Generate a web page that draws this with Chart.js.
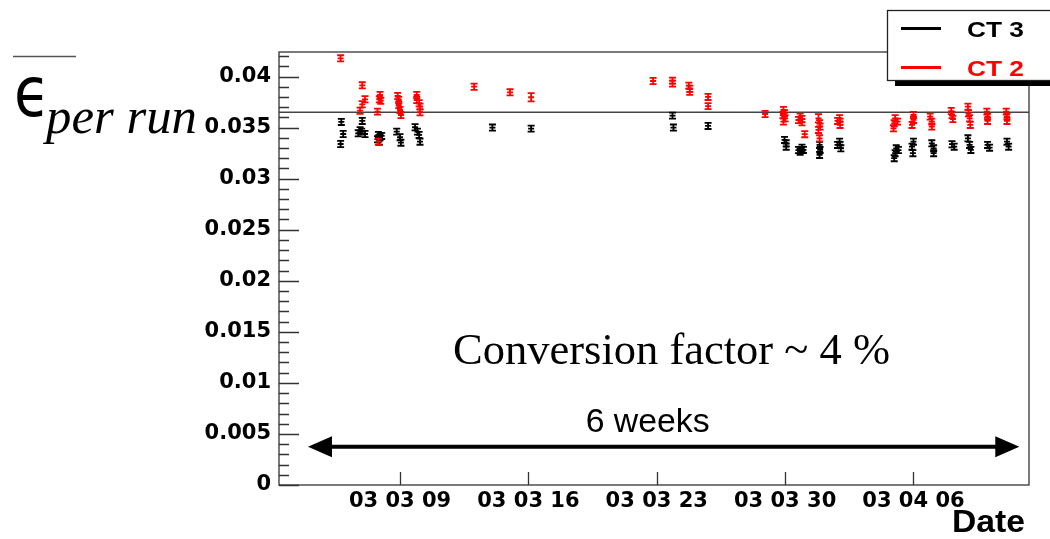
<!DOCTYPE html>
<html>
<head>
<meta charset="utf-8">
<script src="https://cdn.jsdelivr.net/npm/chart.js@4"></script>
<style>
  html, body { margin: 0; padding: 0; background: #fff; }
  canvas { display: block; }
</style>
</head>
<body>
<canvas id="effChart" width="1050" height="539"></canvas>
<script>
// one entry per run: [day (counted from 1 March 2003), efficiency, error]
const ct3Runs = [
  [5.80, 0.03555, 0.0003], [5.90, 0.03437, 0.0003], [5.76, 0.03339, 0.0003],
  [6.94, 0.03565, 0.0003], [6.82, 0.03474, 0.0003], [6.72, 0.03444, 0.0003],
  [6.91, 0.03460, 0.0003], [7.09, 0.03437, 0.0003],
  [7.82, 0.03428, 0.0003], [7.91, 0.03405, 0.0003], [8.00, 0.03418, 0.0003],
  [7.77, 0.03386, 0.0003], [7.87, 0.03362, 0.0003],
  [8.82, 0.03460, 0.0003], [9.00, 0.03405, 0.0003], [9.05, 0.03352, 0.0003],
  [9.82, 0.03503, 0.0003], [9.95, 0.03460, 0.0003], [10.04, 0.03428, 0.0003],
  [10.09, 0.03362, 0.0003],
  [14.04, 0.03500, 0.0003], [16.15, 0.03490, 0.0003],
  [23.86, 0.03617, 0.0003], [23.91, 0.03500, 0.0003], [25.80, 0.03516, 0.0003],
  [29.97, 0.03379, 0.0003], [30.06, 0.03346, 0.0003], [30.06, 0.03313, 0.0003],
  [30.92, 0.03303, 0.0003], [31.00, 0.03281, 0.0003], [30.82, 0.03264, 0.0003],
  [30.73, 0.03280, 0.0003],
  [31.88, 0.03330, 0.0003], [31.91, 0.03281, 0.0003], [31.88, 0.03232, 0.0003],
  [32.97, 0.03362, 0.0003], [33.00, 0.03330, 0.0003], [33.04, 0.03297, 0.0003],
  [32.86, 0.03330, 0.0003],
  [36.06, 0.03297, 0.0003], [36.00, 0.03249, 0.0003], [35.95, 0.03200, 0.0003],
  [36.18, 0.03280, 0.0003],
  [37.00, 0.03362, 0.0003], [36.92, 0.03313, 0.0003], [36.97, 0.03249, 0.0003],
  [38.00, 0.03346, 0.0003], [38.10, 0.03297, 0.0003], [38.10, 0.03249, 0.0003],
  [39.10, 0.03337, 0.0003], [39.22, 0.03313, 0.0003],
  [39.97, 0.03395, 0.0003], [40.06, 0.03330, 0.0003], [40.13, 0.03281, 0.0003],
  [41.04, 0.03330, 0.0003], [41.15, 0.03303, 0.0003],
  [42.10, 0.03362, 0.0003], [42.19, 0.03313, 0.0003]
];

const ct2Runs = [
  [5.76, 0.04178, 0.0003], [6.94, 0.03914, 0.0003], [7.09, 0.03777, 0.0003],
  [6.94, 0.03728, 0.0003], [6.82, 0.03665, 0.0003], [7.77, 0.03656, 0.0003],
  [7.82, 0.03362, 0.0003],
  [7.91, 0.03819, 0.0003], [7.87, 0.03777, 0.0003], [7.95, 0.03763, 0.0003],
  [8.87, 0.03809, 0.0003], [8.93, 0.03770, 0.0003], [8.93, 0.03721, 0.0003],
  [9.00, 0.03672, 0.0003], [9.05, 0.03623, 0.0003],
  [9.91, 0.03819, 0.0003], [9.91, 0.03770, 0.0003], [10.04, 0.03738, 0.0003],
  [10.09, 0.03705, 0.0003], [10.09, 0.03650, 0.0003],
  [13.04, 0.03900, 0.0003], [15.00, 0.03845, 0.0003], [16.15, 0.03797, 0.0004],
  [22.80, 0.03956, 0.0003], [23.86, 0.03960, 0.0003], [23.86, 0.03930, 0.0003],
  [24.75, 0.03910, 0.0003], [24.80, 0.03880, 0.0003], [24.80, 0.03850, 0.0003],
  [25.80, 0.03800, 0.0003], [25.80, 0.03710, 0.0003],
  [28.91, 0.03633, 0.0003],
  [29.91, 0.03672, 0.0003], [29.97, 0.03640, 0.0003], [29.88, 0.03623, 0.0003],
  [30.00, 0.03591, 0.0003], [29.91, 0.03558, 0.0003],
  [30.82, 0.03607, 0.0003], [30.92, 0.03584, 0.0003], [30.92, 0.03552, 0.0003],
  [30.73, 0.03574, 0.0003], [31.07, 0.03435, 0.0003],
  [31.82, 0.03591, 0.0004], [31.88, 0.03542, 0.0003], [31.91, 0.03509, 0.0003],
  [31.82, 0.03477, 0.0003], [31.88, 0.03395, 0.0003],
  [32.97, 0.03591, 0.0003], [33.00, 0.03558, 0.0003], [33.00, 0.03526, 0.0003],
  [32.86, 0.03565, 0.0003],
  [36.00, 0.03591, 0.0003], [35.95, 0.03542, 0.0003], [35.91, 0.03493, 0.0003],
  [36.13, 0.03558, 0.0003],
  [37.00, 0.03623, 0.0003], [37.00, 0.03575, 0.0003], [36.92, 0.03526, 0.0003],
  [37.91, 0.03607, 0.0003], [38.00, 0.03558, 0.0003], [38.00, 0.03509, 0.0003],
  [39.06, 0.03662, 0.0003], [39.10, 0.03623, 0.0003], [39.15, 0.03584, 0.0003],
  [39.97, 0.03705, 0.0003], [40.00, 0.03640, 0.0003], [40.06, 0.03591, 0.0003],
  [40.10, 0.03526, 0.0003],
  [41.00, 0.03656, 0.0003], [41.04, 0.03607, 0.0003], [41.04, 0.03565, 0.0003],
  [42.06, 0.03656, 0.0003], [42.10, 0.03607, 0.0003], [42.10, 0.03565, 0.0003]
];

const tickDays = [9, 16, 23, 30, 37];
const tickLabels = ['03 03 09', '03 03 16', '03 03 23', '03 03 30', '03 04 06'];
const dayRange = [2.4, 43.3];
const effMax = 0.0424;
const meanEff = 0.0365;
// the "6 weeks" arrow, in day / efficiency units
const spanDays = [3.98, 42.77];
const spanLevel = 0.00375;

const toPoints = runs => runs.map(r => ({ x: r[0], y: r[1] }));
const toErrors = runs => runs.map(r => r[2]);

// draws text squeezed or stretched to a given width
function fitText(ctx, text, x, y, font, width, align) {
  ctx.save();
  ctx.font = font;
  const k = width / ctx.measureText(text).width;
  ctx.translate(x, y);
  ctx.scale(k, 1);
  ctx.textAlign = align || 'left';
  ctx.textBaseline = 'alphabetic';
  ctx.fillText(text, 0, 0);
  ctx.restore();
}

const decorations = {
  id: 'decorations',
  afterDatasetsDraw(chart) {
    const { ctx, chartArea: a, scales: { x, y } } = chart;

    // error bars for every run
    chart.data.datasets.forEach((ds, i) => {
      if (!ds.errors) return;
      const meta = chart.getDatasetMeta(i);
      ctx.save();
      ctx.strokeStyle = ds.borderColor;
      ctx.lineWidth = 1.8;
      meta.data.forEach((pt, j) => {
        const v = ds.data[j].y;
        const top = y.getPixelForValue(v + ds.errors[j]);
        const bot = y.getPixelForValue(v - ds.errors[j]);
        ctx.beginPath();
        ctx.moveTo(pt.x, top); ctx.lineTo(pt.x, bot);
        ctx.moveTo(pt.x - 3.5, top); ctx.lineTo(pt.x + 3.5, top);
        ctx.moveTo(pt.x - 3.5, bot); ctx.lineTo(pt.x + 3.5, bot);
        ctx.moveTo(pt.x - 3, pt.y); ctx.lineTo(pt.x + 3, pt.y);
        ctx.stroke();
      });
      ctx.restore();
    });

    ctx.save();
    // frame and tick marks
    ctx.strokeStyle = '#333';
    ctx.lineWidth = 1.3;
    ctx.strokeRect(a.left, a.top, a.right - a.left, a.bottom - a.top);
    ctx.beginPath();
    for (let m = 0; m <= effMax * 1000 + 1e-9; m++) {
      const py = Math.round(y.getPixelForValue(m / 1000)) + 0.5;
      ctx.moveTo(a.left, py);
      ctx.lineTo(a.left + (m % 5 === 0 ? 20 : 10), py);
    }
    tickDays.forEach(d => {
      const px = Math.round(x.getPixelForValue(d)) + 0.5;
      ctx.moveTo(px, a.bottom);
      ctx.lineTo(px, a.bottom - 13);
    });
    ctx.stroke();

    // 6 weeks arrow
    const x0 = x.getPixelForValue(spanDays[0]);
    const x1 = x.getPixelForValue(spanDays[1]);
    const ay = y.getPixelForValue(spanLevel);
    ctx.fillStyle = '#000';
    ctx.strokeStyle = '#000';
    ctx.lineWidth = 4;
    ctx.beginPath();
    ctx.moveTo(x0 + 20, ay); ctx.lineTo(x1 - 20, ay);
    ctx.stroke();
    ctx.beginPath();
    ctx.moveTo(x0, ay); ctx.lineTo(x0 + 24, ay - 10.5); ctx.lineTo(x0 + 24, ay + 10.5);
    ctx.closePath();
    ctx.moveTo(x1, ay); ctx.lineTo(x1 - 24, ay - 10.5); ctx.lineTo(x1 - 24, ay + 10.5);
    ctx.closePath();
    ctx.fill();
    fitText(ctx, '6 weeks', (x0 + x1) / 2 - 16, ay - 15, '33px "Liberation Sans"', 124, 'center');

    fitText(ctx, 'Conversion factor ~ 4 %', 453, 364, '44px "Liberation Serif"', 437, 'left');

    // axis titles
    fitText(ctx, 'Date', 1025, 532, 'bold 31px "Liberation Sans"', 73, 'right');
    ctx.strokeStyle = '#555';
    ctx.lineWidth = 1.5;
    ctx.beginPath();
    ctx.moveTo(13, 56.5); ctx.lineTo(76, 56.5);
    ctx.stroke();
    fitText(ctx, '\u03F5', 14, 116, '70px "DejaVu Sans"', 36, 'left');
    fitText(ctx, 'per run', 46, 133, 'italic 50px "Liberation Serif"', 151, 'left');

    // legend box with drop shadow
    ctx.fillStyle = '#000';
    ctx.fillRect(895, 16, 170, 70);
    ctx.fillStyle = '#fff';
    ctx.fillRect(887, 10, 170, 70);
    ctx.strokeStyle = '#222';
    ctx.lineWidth = 1.3;
    ctx.strokeRect(887.5, 10.5, 170, 70);
    chart.data.datasets.forEach((ds, i) => {
      if (!ds.errors) return;
      const ly = i === 1 ? 28.5 : 67.5;
      ctx.strokeStyle = ds.borderColor;
      ctx.lineWidth = 3;
      ctx.beginPath();
      ctx.moveTo(901, ly); ctx.lineTo(941, ly);
      ctx.stroke();
      ctx.fillStyle = ds.borderColor;
      fitText(ctx, ds.label, 967, ly + 8, 'bold 22px "Liberation Sans"', 57, 'left');
    });
    ctx.restore();
  }
};

const labelFont = { family: '"DejaVu Sans"', weight: 'bold', size: 21 };

new Chart(document.getElementById('effChart'), {
  type: 'scatter',
  data: {
    datasets: [
      {
        label: 'mean',
        data: [{ x: dayRange[0], y: meanEff }, { x: dayRange[1], y: meanEff }],
        showLine: true,
        borderColor: '#444',
        borderWidth: 1.3,
        pointRadius: 0
      },
      {
        label: 'CT 3',
        data: toPoints(ct3Runs),
        errors: toErrors(ct3Runs),
        borderColor: '#000',
        backgroundColor: '#000',
        pointRadius: 0
      },
      {
        label: 'CT 2',
        data: toPoints(ct2Runs),
        errors: toErrors(ct2Runs),
        borderColor: '#ff0000',
        backgroundColor: '#ff0000',
        pointRadius: 0
      }
    ]
  },
  options: {
    responsive: false,
    animation: false,
    devicePixelRatio: 1,
    layout: { padding: { left: 0, top: 52, right: 21, bottom: 0 } },
    plugins: { legend: { display: false }, tooltip: { enabled: false } },
    scales: {
      x: {
        type: 'linear',
        min: dayRange[0],
        max: dayRange[1],
        grid: { display: false, drawTicks: false },
        border: { display: false },
        afterBuildTicks: s => { s.ticks = tickDays.map(d => ({ value: d })); },
        afterFit: s => { s.height = 54; },
        ticks: {
          autoSkip: false,
          maxRotation: 0,
          padding: 4,
          color: '#000',
          font: labelFont,
          callback: v => tickLabels[tickDays.indexOf(v)]
        }
      },
      y: {
        type: 'linear',
        min: 0,
        max: effMax,
        grid: { display: false, drawTicks: false },
        border: { display: false },
        afterFit: s => { s.width = 279; },
        ticks: {
          stepSize: 0.005,
          includeBounds: false,
          padding: 8,
          color: '#000',
          font: labelFont,
          callback: v => String(+v.toFixed(3))
        }
      }
    }
  },
  plugins: [decorations]
});
</script>
</body>
</html>
